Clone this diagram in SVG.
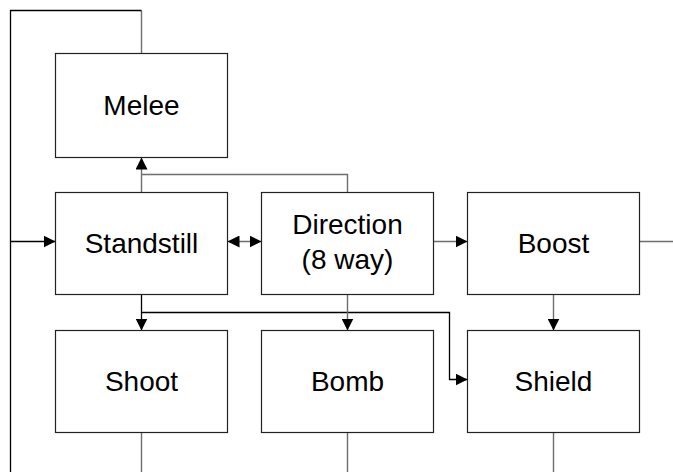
<svg xmlns="http://www.w3.org/2000/svg" width="673" height="472" viewBox="0 0 673 472">
  <defs>
    <marker id="arrow" viewBox="0 0 12 12" markerWidth="12" markerHeight="12" markerUnits="userSpaceOnUse" refX="12" refY="6" orient="auto-start-reverse">
      <path d="M0,0 L12,6 L0,12 z" fill="#000"/>
    </marker>
  </defs>
  <style>
    .box { fill: #fff; stroke: #222; stroke-width: 1.2; }
    .label { font-family: "Liberation Sans", Arial, sans-serif; font-size: 28px; fill: #000; text-anchor: middle; }
    .dark { fill: none; stroke: #000; stroke-width: 1.3; }
    .grey { fill: none; stroke: #6e6e6e; stroke-width: 1.4; }
  </style>
  <rect width="673" height="472" fill="#fff"/>

  <g id="connectors">
    <!-- outer feedback loop back into Standstill -->
    <path class="grey" d="M141.5 53.5 V10.5"/>
    <path class="dark" d="M141.5 10.5 H10.5 V472"/>
    <path class="dark" d="M10.5 241.5 H55.5" marker-end="url(#arrow)"/>
    <!-- Standstill / Direction to Melee -->
    <path class="grey" d="M141.5 192.5 V157.5" marker-end="url(#arrow)"/>
    <path class="grey" d="M347.5 192.5 V174.5 H141.5"/>
    <!-- middle row -->
    <path class="grey" d="M227.5 241.5 H261.5" marker-start="url(#arrow)" marker-end="url(#arrow)"/>
    <path class="grey" d="M433.5 241.5 H467.5" marker-end="url(#arrow)"/>
    <path class="grey" d="M639.5 241.5 H673"/>
    <!-- down to the action row -->
    <path class="dark" d="M141.5 294.5 V330.5" marker-end="url(#arrow)"/>
    <path class="dark" d="M141.5 312.5 H449.5 V379.5 H467.5" marker-end="url(#arrow)"/>
    <path class="grey" d="M347.5 294.5 V330.5" marker-end="url(#arrow)"/>
    <path class="grey" d="M553.5 294.5 V330.5" marker-end="url(#arrow)"/>
    <!-- exits below the action row -->
    <path class="grey" d="M141.5 432.5 V472 M347.5 432.5 V472 M553.5 432.5 V472"/>
  </g>

  <g id="melee">
    <rect class="box" x="55.5" y="53.5" width="172" height="104"/>
    <text class="label" x="141.5" y="114.5">Melee</text>
  </g>
  <g id="standstill">
    <rect class="box" x="55.5" y="192.5" width="172" height="102"/>
    <text class="label" x="141.5" y="253">Standstill</text>
  </g>
  <g id="direction">
    <rect class="box" x="261.5" y="192.5" width="172" height="102"/>
    <text class="label" x="347.5" y="234">Direction</text>
    <text class="label" x="347.5" y="268.5">(8 way)</text>
  </g>
  <g id="boost">
    <rect class="box" x="467.5" y="192.5" width="172" height="102"/>
    <text class="label" x="553.5" y="253">Boost</text>
  </g>
  <g id="shoot">
    <rect class="box" x="55.5" y="330.5" width="172" height="102"/>
    <text class="label" x="141.5" y="391">Shoot</text>
  </g>
  <g id="bomb">
    <rect class="box" x="261.5" y="330.5" width="172" height="102"/>
    <text class="label" x="347.5" y="391">Bomb</text>
  </g>
  <g id="shield">
    <rect class="box" x="467.5" y="330.5" width="172" height="102"/>
    <text class="label" x="553.5" y="391">Shield</text>
  </g>
</svg>
